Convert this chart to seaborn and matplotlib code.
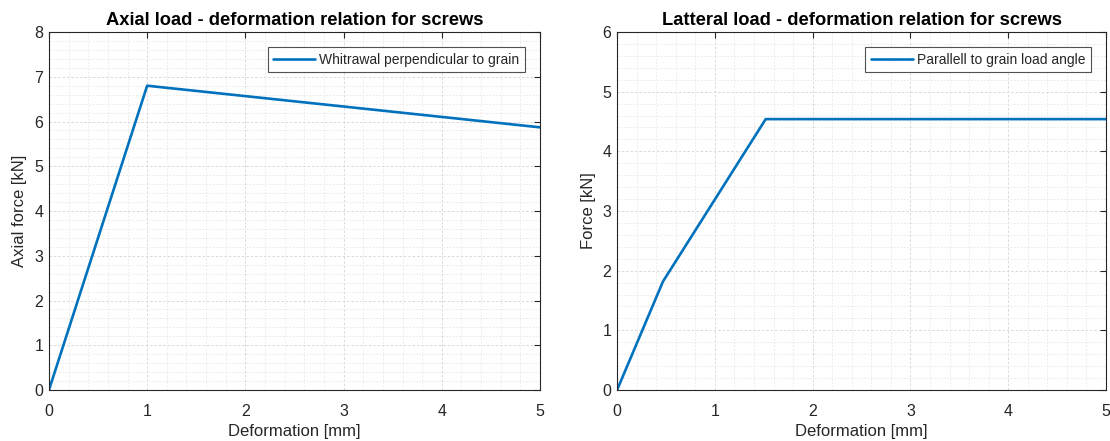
import numpy as np
import pandas as pd
import matplotlib
matplotlib.use("Agg")
import matplotlib.pyplot as plt
import seaborn as sns
from matplotlib.ticker import MultipleLocator

# Axial load-deformation curve (withdrawal perpendicular to grain)
axial_def = [0.0, 1.0, 5.0]
axial_force = [0.0, 6.8, 5.87]
axial_label = "Whitrawal perpendicular to grain"

# Lateral load-deformation curve (parallel to grain)
lat_def = [0.0, 0.47, 1.52, 5.0]
lat_force = [0.0, 1.82, 4.54, 4.54]
lat_label = "Parallell to grain load angle"

sns.set_theme(style="white")
plt.rcParams["font.family"] = ["Liberation Sans", "DejaVu Sans"]
text_color = "#262626"
line_color = "#0072BD"

fig = plt.figure(figsize=(11.1, 4.41), dpi=100)
ax1 = fig.add_axes([0.0441, 0.1156, 0.4424, 0.8118])
ax2 = fig.add_axes([0.5559, 0.1156, 0.4405, 0.8118])

df1 = pd.DataFrame({"Deformation": axial_def, "Force": axial_force, "Curve": axial_label})
df2 = pd.DataFrame({"Deformation": lat_def, "Force": lat_force, "Curve": lat_label})

sns.lineplot(data=df1, x="Deformation", y="Force", hue="Curve", palette=[line_color],
             lw=1.9, ax=ax1, sort=False, estimator=None)
sns.lineplot(data=df2, x="Deformation", y="Force", hue="Curve", palette=[line_color],
             lw=1.9, ax=ax2, sort=False, estimator=None)

setups = [
    (ax1, 8, "Axial load - deformation relation for screws", "Axial force [kN]"),
    (ax2, 6, "Latteral load - deformation relation for screws", "Force [kN]"),
]
for ax, ymax, title, ylabel in setups:
    ax.set_xlim(0, 5)
    ax.set_ylim(0, ymax)
    ax.xaxis.set_major_locator(MultipleLocator(1))
    ax.yaxis.set_major_locator(MultipleLocator(1))
    ax.xaxis.set_minor_locator(MultipleLocator(0.2))
    ax.yaxis.set_minor_locator(MultipleLocator(0.2))
    ax.grid(which="major", color="#d9d9d9", linestyle=(0, (2.5, 2)), linewidth=0.7)
    ax.grid(which="minor", color="#e6e6e6", linestyle=(0, (2, 2)), linewidth=0.6)
    ax.set_axisbelow(True)
    ax.tick_params(which="major", direction="in", length=4, width=0.8, colors="#262626",
                   labelsize=11.5, top=True, right=True)
    ax.tick_params(axis="x", which="major", pad=10)
    ax.tick_params(axis="y", which="major", pad=4)
    ax.tick_params(which="minor", length=0, top=True, right=True)
    for lbl in ax.get_xticklabels() + ax.get_yticklabels():
        lbl.set_color(text_color)
    for s in ax.spines.values():
        s.set_color("#262626")
        s.set_linewidth(0.8)
    ax.set_title(title, fontsize=13.2, fontweight="bold", color="black", pad=5)
    ax.set_xlabel("Deformation [mm]", fontsize=12, color=text_color, labelpad=4)
    ax.set_ylabel(ylabel, fontsize=12, color=text_color, labelpad=5)
    leg = ax.legend(loc="upper right", title=None, fontsize=10, frameon=True, fancybox=False,
                    handlelength=3.0, borderpad=0.4, handletextpad=0.3,
                    borderaxespad=1.1)
    leg.get_frame().set_edgecolor("#262626")
    leg.get_frame().set_linewidth(0.8)
    for t in leg.get_texts():
        t.set_color(text_color)

fig.savefig("out.png", dpi=100)
